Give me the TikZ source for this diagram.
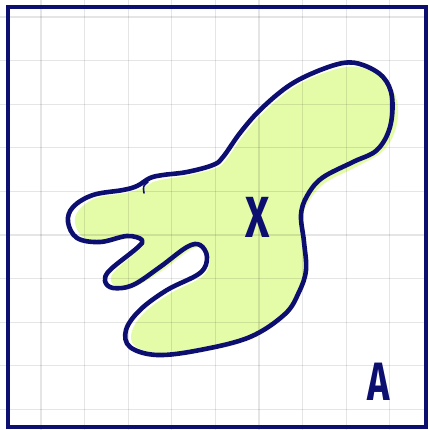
\documentclass[tikz,border=0pt]{standalone}
\usepackage{fontspec}
\setmainfont{Fira Sans}
\usepackage{graphicx}
\definecolor{navy}{RGB}{12,14,112}
\definecolor{blobfill}{RGB}{228,251,168}
\tikzset{
  gridline/.style={black,opacity=0.10,line width=1.3pt},
  frame/.style={navy,line width=4.2pt},
  outline/.style={navy,line width=4.6pt,line join=round,line cap=round},
  blobarea/.style={fill=blobfill,draw=none},
  label/.style={navy,inner sep=0pt,font=\bfseries}
}
\begin{document}
\begin{tikzpicture}[x=1pt,y=-1pt]
\useasboundingbox (0,0) rectangle (428,430);
\fill[white] (0,0) rectangle (428,430);
% fill of the blob (slightly offset, sketchy)
\fill[blobarea,xshift=3pt,yshift=-1pt] plot[smooth cycle,tension=0.6] coordinates {
(93,197) (123,192) (140,187) (150,181) (163,178) (187,174) (213,167) (223,159) (240,135) (260,112) (287,89) (313,75) (343,66) (363,68) (383,80) (394,100) (393,127) (380,150) (355,165) (322,182) (306,200) (300,216) (302,240) (303,268) (298,290) (285,312) (250,335) (200,347) (157,352) (132,345) (129,330) (142,311) (168,292) (200,275) (207,257) (200,247) (187,249) (160,269) (133,285) (115,286) (108,280) (112,270) (137,248) (140,241) (127,237) (100,242) (80,236) (72,222) (76,209)
};
% grid
\foreach \k in {0,...,9} {
  \draw[gridline] ({41+43.6*(\k-1)},0) -- ({41+43.6*(\k-1)},430);
  \draw[gridline] (0,{17+43.6*\k}) -- (428,{17+43.6*\k});
}
\draw[gridline] (433.8,0) -- (433.8,430);
% outline of the blob
\draw[outline] plot[smooth cycle,tension=0.6] coordinates {
(93,195) (123,190) (137,186) (150,178) (163,175) (187,172) (213,165) (223,157) (240,133) (260,110) (287,87) (313,73) (343,63) (363,65) (383,77) (392,97) (390,127) (377,150) (353,162) (322,178) (307,196) (301,215) (304,242) (306,270) (299,292) (285,314) (250,337) (200,350) (157,355) (130,347) (126,330) (140,310) (167,290) (200,273) (207,257) (200,245) (187,247) (160,267) (133,285) (113,288) (105,281) (110,270) (137,248) (142,240) (127,236) (100,242) (77,238) (68,222) (73,207)
};
\draw[navy,line width=1.6pt,line cap=round] (148,182) .. controls (143,186) .. (144,193);
% labels
\node[label] (x) at (258,217) {\fontsize{58}{58}\selectfont\scalebox{0.72}[1]{X}};
\node[label] (a) at (379,382) {\fontsize{54}{54}\selectfont\scalebox{0.7}[1]{A}};
% frame
\draw[frame] (8,7) rectangle (426,427);
\end{tikzpicture}
\end{document}
